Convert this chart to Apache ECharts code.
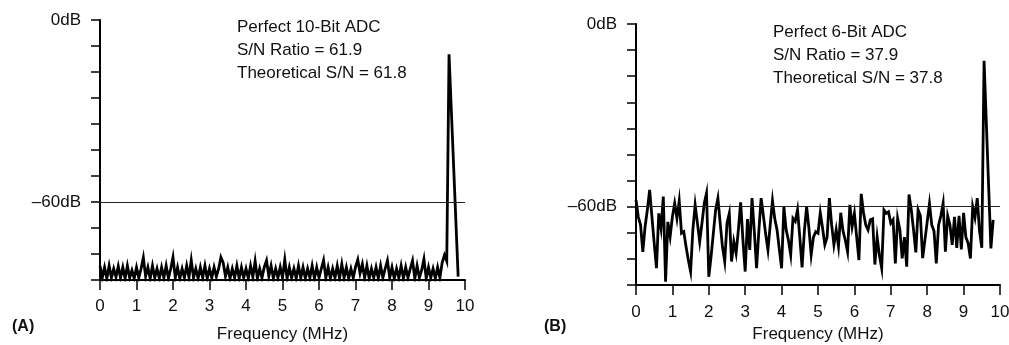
<!DOCTYPE html>
<html>
<head>
<meta charset="utf-8">
<script src="https://cdn.jsdelivr.net/npm/echarts@6/dist/echarts.min.js"></script>
<style>
html,body{margin:0;padding:0;background:#fff;}
#c{width:1009px;height:345px;}
</style>
</head>
<body>
<div id="c"></div>
<script>
// ---- data ----
const freqStepMHz = 0.0625;          // FFT bin width
const xTickLabels = ['0','1','2','3','4','5','6','7','8','9','10'];
const yTickTop = '0dB';
const yTickRef = '\u201360dB';
const refLevelDb = -60;
const panelLabels = ['(A)', '(B)'];
const xAxisTitle = 'Frequency (MHz)';
const notesA = ['Perfect 10-Bit ADC', 'S/N Ratio = 61.9', 'Theoretical S/N = 61.8'];
const notesB = ['Perfect 6-Bit ADC', 'S/N Ratio = 37.9', 'Theoretical S/N = 37.8'];

// Panel A: 10-bit spectrum (dB), one value per bin, null = no plotted point
const spectrumA = [
  -81, -85, -81.5, -85.2, -81, -85, -82, -84.8, -81.2, -85, -81.5, -85.2, -81, -85, -82.5, -85.2,
  -81.5, -85, -82, -78.3, -84.5, -81.5, -85.2, -81, -85, -82, -85.2, -81.5, -85, -81, -85.2, -82,
  -78.2, -85, -81.5, -85.2, -82, -85, -81, -84.8, -79.2, -85, -82, -85.2, -81.5, -85, -81, -85.2,
  -82, -85, -81.5, -84.6, -82, -78.2, -80, -84.5, -81.5, -85.2, -82, -85, -81, -85.2, -81.5, -85,
  -82, -85.2, -81, -84.8, -79.5, -85.2, -82, -85, -81.5, -79.3, -84.5, -81, -85.2, -82, -85, -81.5,
  -85, -79, -85.2, -81.5, -85, -82, -85.2, -81, -85, -81.5, -85.2, -82, -85, -81, -85.2, -81.5,
  -85, -82, -79.2, -85, -81.5, -85.2, -82, -85, -81, -85.2, -80.5, -85, -81.5, -85.2, -82, -85,
  -81.5, -79, -83.5, -80.5, -85, -81, -85.2, -82, -85, -81.5, -85.2, -81, -85, -82, -79.3, -85,
  -81.5, -85.2, -82, -85, -81, -85.2, -81.5, -85, -82, -79.3, -85.2, -81, -85, -82.5, -78.8, -85.2,
  -81.5, -85, -82, -85.2, -81.5, -85, -80, -77.5, -79.5, -11.3, null, null, null, -84.6
];

// Panel B: 6-bit spectrum (dB)
const spectrumB = [
  -57.8, -63.3, -66, -74.8, -66.5, -61, -54.5, -63.3, -72, -80.2, -62.2, -67.1, -56.7, -84.6, -65, -69.8,
  -63.3, -58.9, -63.8, -58.1, -68.7, -68.2, -73.1, -77.5, -81.3, -67.6, -59.4, -65.4, -71.5, -65.4, -58.9, -55.6,
  -83, -76.4, -68.7, -61.1, -57.2, -65.4, -73.1, -78, -65.4, -62.2, -78, -71.5, -75.3, -67.6, -58.6, -70.9,
  -81.3, -64.1, -74.2, -57.2, -68, -80.2, -68, -57.2, -63, -69, -74.2, -66, -58, -64, -67.6, -74,
  -80.2, -60, -67.6, -71, -75.8, -63.8, -64.8, -61, -70, -79.9, -68, -60, -67, -75.8, -70, -68.2,
  -68.7, -62, -67, -72.5, -70, -57.2, -66, -72.5, -67.6, -73, -62, -68, -71, -74.8, -59.4, -66.5,
  -62.2, -70, -77.5, -55.8, -62, -66, -67.6, -64.3, -64, -79, -70, -76, -80.2, -61.1, -62.2, -61.7,
  -65.4, -64.3, -78.6, -63.8, -67.6, -77, -70, -79.7, -56, -61, -67.6, -75, -61, -63, -76.9, -70.9,
  -65, -59, -66, -68, -78.6, -66, -63, -58.9, -74.8, -63, -66, -72.5, -63.3, -73.5, -63, -74,
  -62, -70, -72, -77, -60, -63.5, -57.2, -68, -73.5, -12.1, null, null, -73.7, -64.3
];

// ---- chart ----
const FONT = "'Liberation Sans', Arial, Helvetica, sans-serif";
const TXT = '#111';
const toPairs = arr => arr.map((v, i) => [i * freqStepMHz, v]).filter(p => p[1] !== null);

const grids = [
  {left: 100, top: 20, width: 365, height: 260, containLabel: false, outerBoundsMode: 'none'},
  {left: 636, top: 24, width: 364, height: 261, containLabel: false, outerBoundsMode: 'none'}
];

function xAxisFor(gi) {
  return {
    type: 'value', gridIndex: gi, min: 0, max: 10, interval: 1,
    axisLine: {show: true, onZero: false, lineStyle: {color: '#000', width: 2}},
    axisTick: {show: true, length: 10, lineStyle: {color: '#000', width: 1.5}},
    axisLabel: {color: TXT, fontSize: 17, fontFamily: FONT, margin: gi === 0 ? 18 : 19,
      formatter: v => xTickLabels[Math.round(v)] || ''},
    splitLine: {show: false},
    name: xAxisTitle, nameLocation: 'middle', nameGap: gi === 0 ? 46 : 41,
    nameTextStyle: {color: TXT, fontSize: 17, fontFamily: FONT}
  };
}
function yAxisFor(gi) {
  return {
    type: 'value', gridIndex: gi, min: -600 / 7, max: 0, interval: 60 / 7,
    axisLine: {show: true, onZero: false, lineStyle: {color: '#000', width: 2}},
    axisTick: {show: true, length: 9, lineStyle: {color: '#000', width: 1.5}},
    axisLabel: {color: TXT, fontSize: 17, fontFamily: FONT, margin: 19,
      formatter: v => Math.abs(v) < 0.01 ? yTickTop : (Math.abs(v - refLevelDb) < 0.01 ? yTickRef : '')},
    splitLine: {show: false}
  };
}
function seriesFor(gi, arr) {
  return {
    type: 'line', xAxisIndex: gi, yAxisIndex: gi, data: toPairs(arr),
    showSymbol: false, symbol: 'none', connectNulls: true, animation: false,
    lineStyle: {color: '#000', width: 2.8, join: 'miter'},
    markLine: {
      silent: true, symbol: ['none', 'none'], label: {show: false},
      lineStyle: {color: '#222', width: 1, type: 'solid'},
      data: [{yAxis: refLevelDb}], animation: false
    },
    z: 3
  };
}

const chart = echarts.init(document.getElementById('c'), null, {renderer: 'canvas'});
chart.setOption({
  animation: false,
  backgroundColor: '#fff',
  grid: grids,
  xAxis: [xAxisFor(0), xAxisFor(1)],
  yAxis: [yAxisFor(0), yAxisFor(1)],
  series: [seriesFor(0, spectrumA), seriesFor(1, spectrumB)],
  graphic: [
    {type: 'text', left: 12, top: 319, style: {text: panelLabels[0], font: 'bold 16px ' + FONT, fill: TXT}},
    {type: 'text', left: 544, top: 319, style: {text: panelLabels[1], font: 'bold 16px ' + FONT, fill: TXT}},
    {type: 'text', left: 237, top: 16, style: {text: notesA.join('\n'), font: '17px ' + FONT, fill: TXT, lineHeight: 23}},
    {type: 'text', left: 773, top: 21, style: {text: notesB.join('\n'), font: '17px ' + FONT, fill: TXT, lineHeight: 23}}
  ]
});
</script>
</body>
</html>
